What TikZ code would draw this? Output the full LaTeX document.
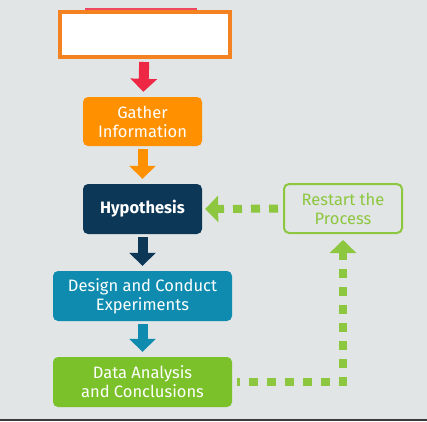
\documentclass[tikz,border=0pt]{standalone}
\usepackage{fontspec}
\setmainfont{Fira Sans}
\usetikzlibrary{arrows.meta}
\definecolor{bggray}{HTML}{E1E5E6}
\definecolor{edgedark}{HTML}{3A3A3A}
\definecolor{topred}{HTML}{EE2745}
\definecolor{toporange}{HTML}{F58220}
\definecolor{gatherorange}{HTML}{FF9100}
\definecolor{hyponavy}{HTML}{0C3756}
\definecolor{designteal}{HTML}{0E8BAE}
\definecolor{datagreen}{HTML}{7BC12A}
\definecolor{restartgreen}{HTML}{8DC63F}
\tikzset{
  stepbox/.style={rectangle, rounded corners=5pt, inner sep=0pt, align=center,
    text=white, font=\fontsize{16.5}{19}\selectfont},
  blockarrow/.style={line width=10pt, shorten <=3pt, shorten >=5pt,
    -{Triangle[width=26pt,length=13pt]}},
  dotline/.style={line width=8pt, restartgreen, dash pattern=on 9pt off 9pt,
    -{Triangle[width=26pt,length=13pt]}}
}
\begin{document}
\begin{tikzpicture}[x=1pt,y=-1pt]
  % background
  \fill[bggray] (0,0) rectangle (427,421);
  \fill[edgedark] (0,419) rectangle (427,421);
  \fill[topred!85!white] (85,7.5) rectangle (197,10.5);
  % boxes
  \node[rectangle, draw=toporange, fill=white, line width=4pt,
    minimum width=170pt, minimum height=45pt] (start) at (145,34.5) {};
  \node[stepbox, fill=gatherorange, minimum width=119pt, minimum height=49pt]
    (gather) at (142.5,121.5) {Gather\\Information};
  \node[stepbox, fill=hyponavy, minimum width=119pt, minimum height=50pt,
    font=\fontsize{16.5}{19}\selectfont\bfseries] (hypo) at (142.5,209) {Hypothesis};
  \node[stepbox, fill=designteal, minimum width=179pt, minimum height=50pt]
    (design) at (142.5,296) {Design and Conduct\\Experiments};
  \node[stepbox, fill=datagreen, minimum width=179pt, minimum height=50pt]
    (data) at (142.5,382) {Data Analysis\\and Conclusions};
  \node[stepbox, draw=restartgreen, line width=2pt, text=restartgreen,
    minimum width=118pt, minimum height=49pt] (restart) at (343,208.5)
    {Restart the\\Process};
  % arrows
  \draw[blockarrow, topred] (start) -- (gather);
  \draw[blockarrow, gatherorange] (gather) -- (hypo);
  \draw[blockarrow, hyponavy] (hypo) -- (design);
  \draw[blockarrow, designteal] (design) -- (data);
  % loop back
  \draw[dotline, dash phase=6pt, shorten <=5pt, shorten >=6pt]
    (data.east) -- (data.east -| restart.south) -- (restart.south);
  \draw[dotline, shorten <=5pt, shorten >=3pt] (restart.west) -- (hypo.east);
\end{tikzpicture}
\end{document}
